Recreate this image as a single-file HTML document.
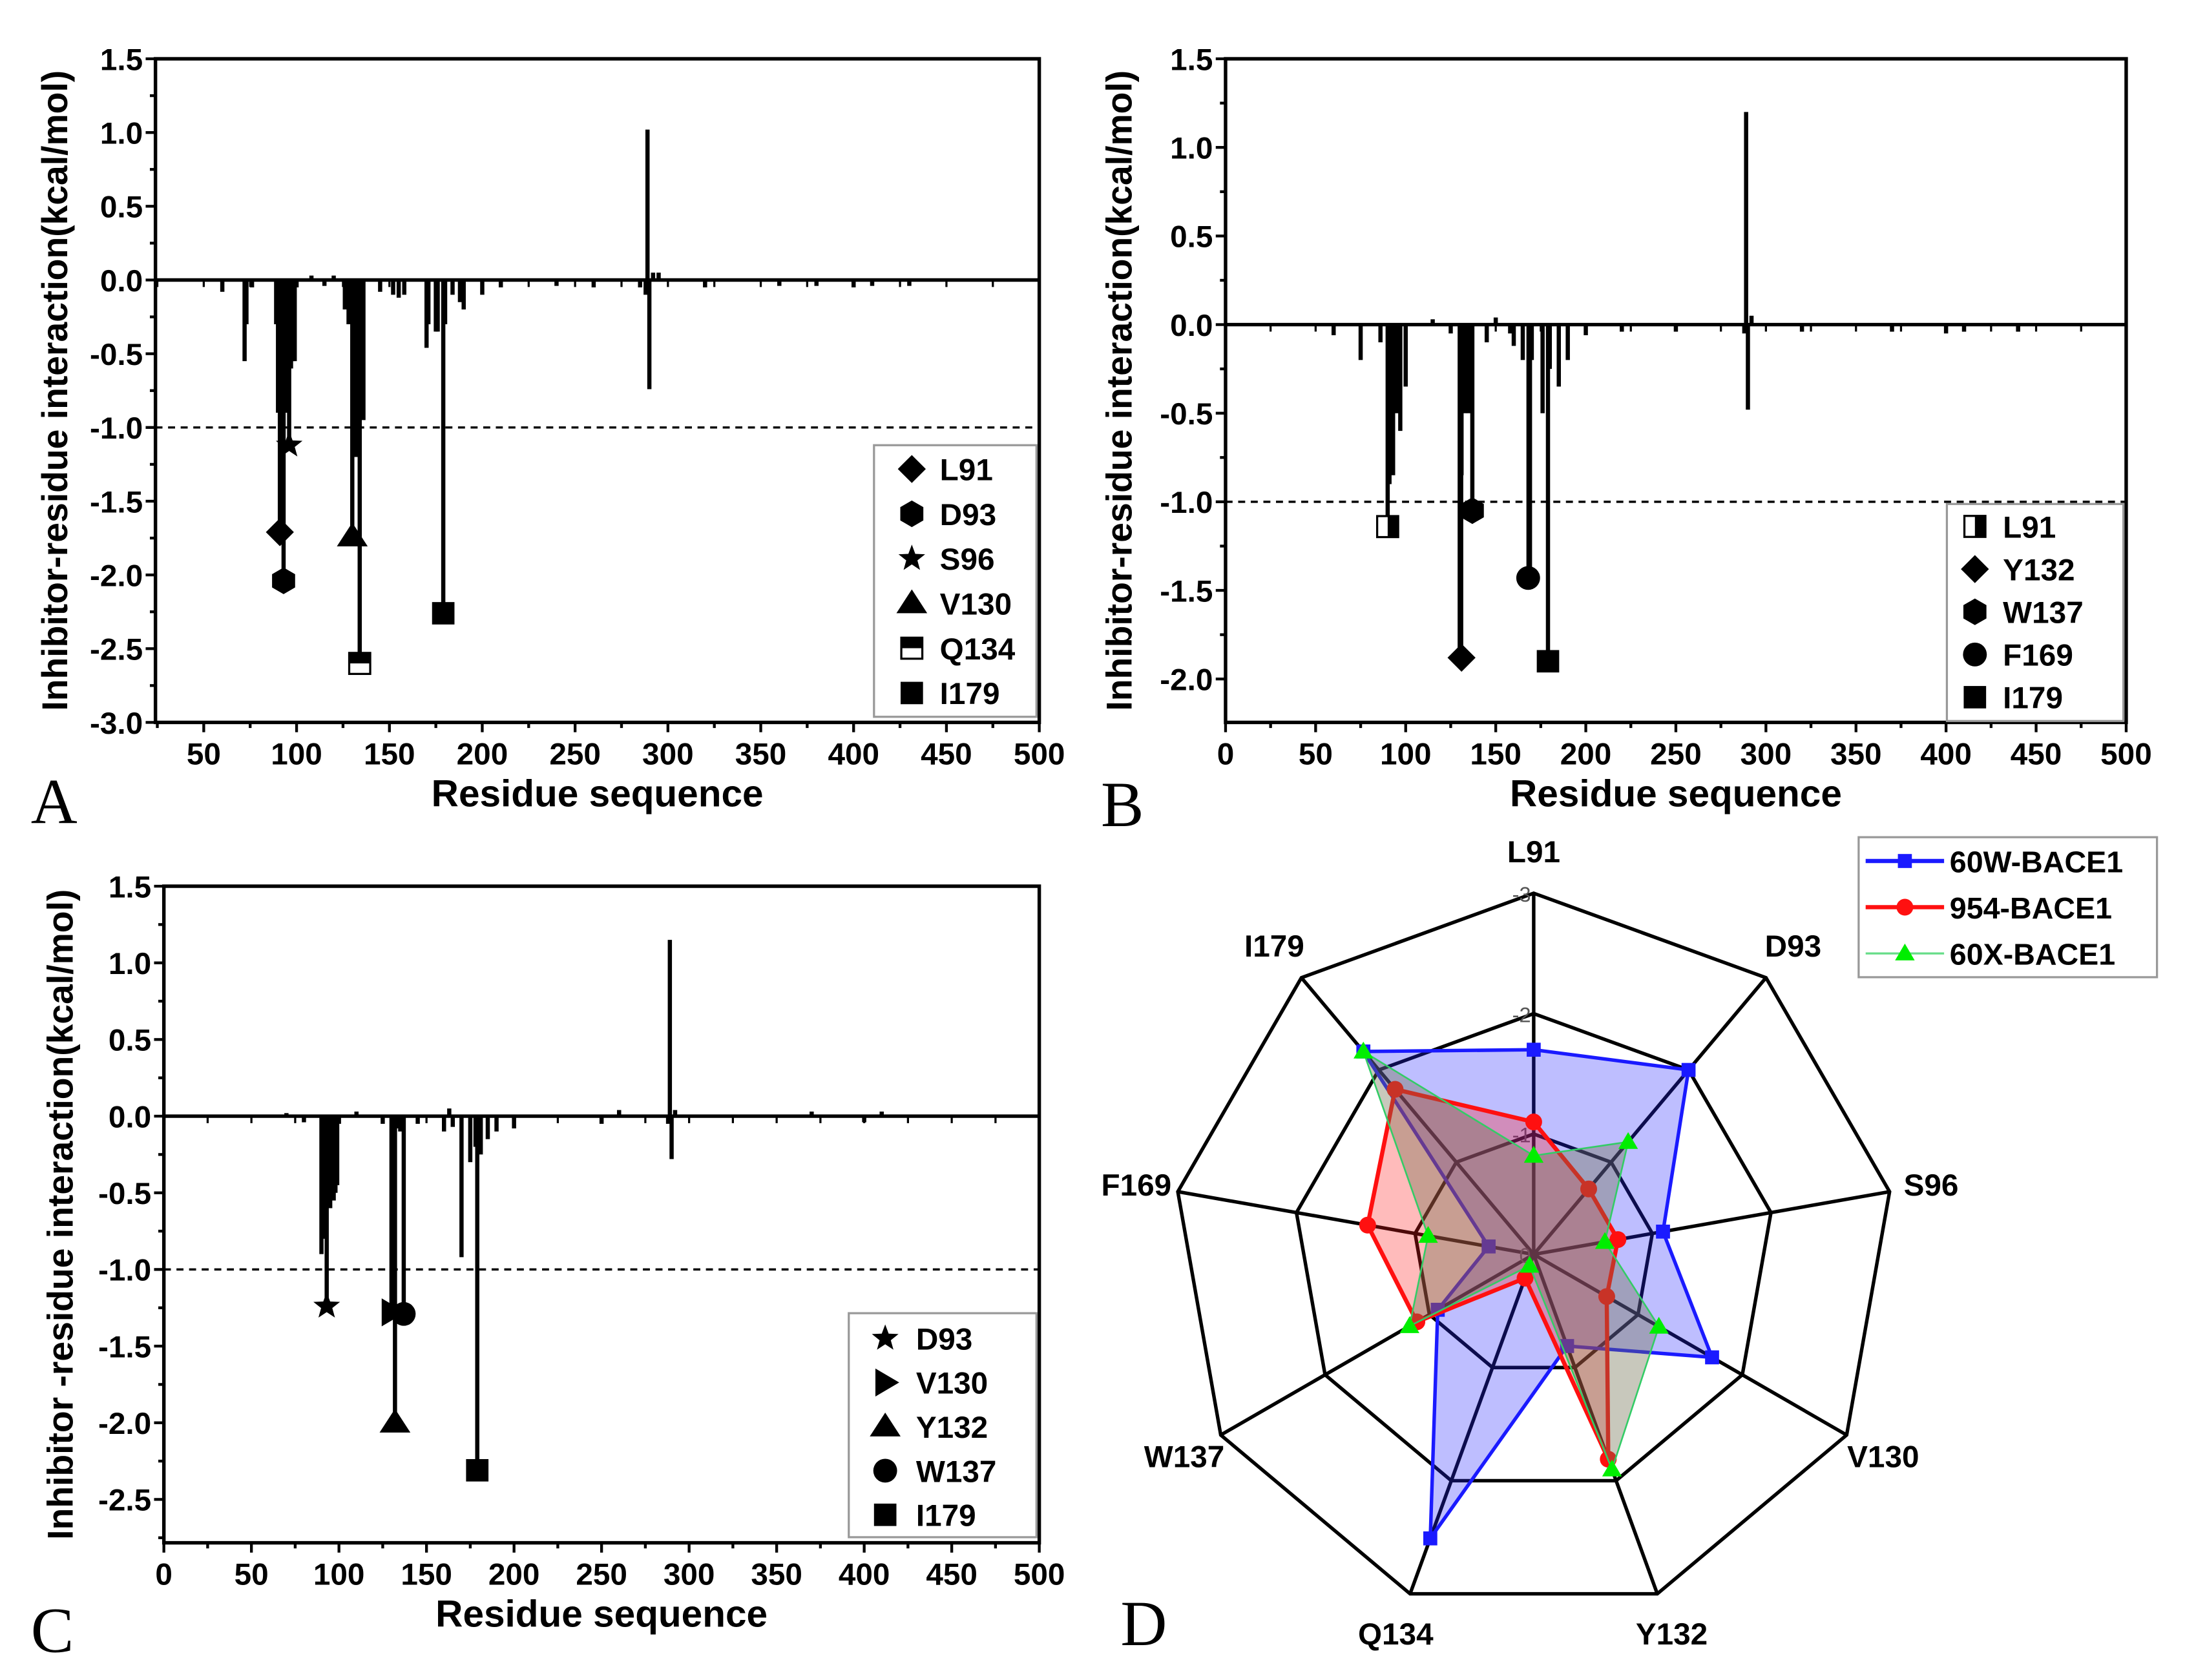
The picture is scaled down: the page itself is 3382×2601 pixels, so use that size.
<!DOCTYPE html>
<html><head><meta charset="utf-8">
<style>
html,body{margin:0;padding:0;background:#fff;}
svg{display:block;}
text{font-family:"Liberation Sans",Arial,sans-serif;font-weight:bold;fill:#000;}
</style></head>
<body>
<svg id="fig" width="3382" height="2601" viewBox="0 0 1560 1200" preserveAspectRatio="none" xmlns="http://www.w3.org/2000/svg"></svg>
<script>
// ---------- Panel A data ----------
const aRes = [60,72,73,76,89,90,91,92,93,94,95,96,97,98,99,100,108,115,120,126,128,130,132,134,135,136,145,152,155,158,170,171,175,176,179,180,184,188,190,200,210,240,260,285,288,289,290,292,295,320,360,380,400,410,430];
const aVal = [-0.08,-0.55,-0.3,-0.05,-0.3,-0.9,-1.71,-0.9,-2.04,-0.9,-0.7,-1.12,-0.6,-0.55,-0.55,-0.05,0.03,-0.04,0.03,-0.2,-0.3,-1.74,-1.2,-2.6,-0.9,-0.95,-0.08,-0.1,-0.12,-0.1,-0.46,-0.3,-0.35,-0.35,-2.26,-0.3,-0.1,-0.15,-0.2,-0.1,-0.05,-0.04,-0.05,-0.05,-0.1,1.02,-0.74,0.05,0.05,-0.05,-0.04,-0.04,-0.05,-0.04,-0.04];
const aMarkRes = [91,93,96,130,134,179];
const aMarkVal = [-1.71,-2.04,-1.12,-1.74,-2.6,-2.26];
const aMarkShape = ["diamond","hexagon","star","triangle","halfsq","square"];
const aLegend = ["L91","D93","S96","V130","Q134","I179"];
// ---------- Panel B data ----------
const bRes = [60,75,86,90,91,92,93,95,97,100,115,125,130,131,133,135,137,145,150,158,160,165,169,170,176,179,180,185,190,200,220,250,288,289,290,292,320,370,400,410,440];
const bVal = [-0.06,-0.2,-0.1,-1.14,-0.9,-0.8,-0.85,-0.5,-0.6,-0.35,0.03,-0.05,-1.88,-0.85,-0.5,-0.5,-1.05,-0.1,0.04,-0.05,-0.12,-0.2,-1.44,-0.2,-0.5,-1.9,-0.25,-0.35,-0.2,-0.06,-0.04,-0.04,-0.05,1.2,-0.48,0.05,-0.04,-0.04,-0.05,-0.04,-0.04];
const bMarkRes = [90,131,137,168,179];
const bMarkVal = [-1.14,-1.88,-1.05,-1.43,-1.9];
const bMarkShape = ["halfsqv","diamond","hexagon","circle","square"];
const bLegend = ["L91","Y132","W137","F169","I179"];
// ---------- Panel C data ----------
const cRes = [70,80,90,92,93,95,97,98,99,100,110,125,130,132,133,135,137,145,160,163,165,170,175,178,179,181,185,190,200,250,260,288,289,290,292,370,400,410];
const cVal = [0.02,-0.04,-0.9,-0.8,-1.24,-0.6,-0.55,-0.5,-0.45,-0.05,0.03,-0.05,-1.28,-2.0,-0.08,-0.1,-1.29,-0.05,-0.1,0.05,-0.07,-0.92,-0.3,-0.2,-2.31,-0.25,-0.15,-0.1,-0.08,-0.05,0.04,-0.05,1.15,-0.28,0.04,0.03,-0.04,0.03];
const cMarkRes = [93,130,132,137,179];
const cMarkVal = [-1.24,-1.28,-2.0,-1.29,-2.31];
const cMarkShape = ["star","rtriangle","triangle","circle","square"];
const cLegend = ["D93","V130","Y132","W137","I179"];
// ---------- Panel D (radar) data ----------
const radarAxes = ["L91","D93","S96","V130","Y132","Q134","W137","F169","I179"];
const radar60W = [-1.70,-2.0,-1.09,-1.71,-0.81,-2.51,-0.92,-0.38,-2.2];
const radar954 = [-1.10,-0.71,-0.71,-0.70,-1.81,-0.21,-1.12,-1.40,-1.79];
const radar60X = [-0.82,-1.22,-0.60,-1.20,-1.90,-0.10,-1.19,-0.89,-2.2];
const radarSeriesNames = ["60W-BACE1","954-BACE1","60X-BACE1"];
const radarTicks = ["0","-1","-2","-3"];

const NS="http://www.w3.org/2000/svg";
const svg=document.getElementById('fig');
function mk(tag,attrs,parent,txt){const e=document.createElementNS(NS,tag);for(const k in attrs)e.setAttribute(k,attrs[k]);if(txt!==undefined)e.textContent=txt;(parent||svg).appendChild(e);return e;}

function marker(g,shape,cx,cy,s){
  let e;
  if(shape==="diamond"){e=mk('polygon',{points:`${cx},${cy-s} ${cx+s},${cy} ${cx},${cy+s} ${cx-s},${cy}`,fill:'#000'},g);}
  else if(shape==="hexagon"){let p=[];for(let i=0;i<6;i++){const a=Math.PI/180*(60*i-90);p.push((cx+s*0.95*Math.cos(a))+','+(cy+s*0.95*Math.sin(a)));}e=mk('polygon',{points:p.join(' '),fill:'#000'},g);}
  else if(shape==="star"){let p=[];for(let i=0;i<10;i++){const r=i%2?s*0.42:s;const a=Math.PI/180*(36*i-90);p.push((cx+r*Math.cos(a))+','+(cy+r*Math.sin(a)));}e=mk('polygon',{points:p.join(' '),fill:'#000'},g);}
  else if(shape==="triangle"){e=mk('polygon',{points:`${cx},${cy-s} ${cx+s*1.1},${cy+s*0.7} ${cx-s*1.1},${cy+s*0.7}`,fill:'#000'},g);}
  else if(shape==="rtriangle"){e=mk('polygon',{points:`${cx+s},${cy} ${cx-s*0.7},${cy-s*1.0} ${cx-s*0.7},${cy+s*1.0}`,fill:'#000'},g);}
  else if(shape==="circle"){e=mk('circle',{cx:cx,cy:cy,r:s*0.85,fill:'#000'},g);}
  else if(shape==="square"){e=mk('rect',{x:cx-s*0.8,y:cy-s*0.8,width:s*1.6,height:s*1.6,fill:'#000'},g);}
  else if(shape==="halfsq"){e=mk('g',{},g);mk('rect',{x:cx-s*0.75,y:cy-s*0.75,width:s*1.5,height:s*1.5,fill:'#fff',stroke:'#000','stroke-width':1.5},e);mk('rect',{x:cx-s*0.75,y:cy-s*0.75,width:s*1.5,height:s*0.75,fill:'#000'},e);}
  else if(shape==="halfsqv"){e=mk('g',{},g);mk('rect',{x:cx-s*0.75,y:cy-s*0.75,width:s*1.5,height:s*1.5,fill:'#fff',stroke:'#000','stroke-width':1.5},e);mk('rect',{x:cx,y:cy-s*0.75,width:s*0.75,height:s*1.5,fill:'#000'},e);}
  return e;
}

function panel(o){
  const g=mk('g',{});
  
  
  const X=v=>o.x0+(v-o.xmin)*(o.x1-o.x0)/(o.xmax-o.xmin);
  const Y=v=>o.y0+(o.ymax-v)*(o.y1-o.y0)/(o.ymax-o.ymin);
  for(let v=o.yTickStart;v>=o.ymin-1e-6;v-=0.25){
    const major=Math.abs(Math.round(v*2)-v*2)<1e-6;
    const t=mk('line',{x1:o.x0-(major?7:4),x2:o.x0,y1:Y(v),y2:Y(v),stroke:'#000','stroke-width':2},g);
    
    
    if(major){const l=mk('text',{x:o.x0-9,y:Y(v)+8,'text-anchor':'end','font-size':22},g,v.toFixed(1));
      
      }
  }
  for(let v=o.xTickStart;v<=o.xmax;v+=25){
    const major=v%50===0;
    const t=mk('line',{x1:X(v),x2:X(v),y1:o.y1,y2:o.y1+(major?7:4),stroke:'#000','stroke-width':2},g);
    
    
    if(major){const l=mk('text',{x:X(v),y:o.y1+30,'text-anchor':'middle','font-size':22},g,String(v));
      
      }
  }
  for(let v=o.xTickStart;v<=o.xmax;v+=25){
    mk('line',{x1:X(v),x2:X(v),y1:Y(0),y2:Y(0)+5,stroke:'#000','stroke-width':1.5},g);
  }
  const d=mk('line',{x1:o.x0,x2:o.x1,y1:Y(-1),y2:Y(-1),stroke:'#000','stroke-width':1.6,'stroke-dasharray':'5,4'},g);
  
  
  for(let i=0;i<o.res.length;i++){
    const b=mk('line',{x1:X(o.res[i]),x2:X(o.res[i]),y1:Y(0),y2:Y(o.val[i]),stroke:'#000','stroke-width':3},g);
    
    
  }
  for(let i=0;i<o.mres.length;i++){
    const st=mk('line',{x1:X(o.mres[i]),x2:X(o.mres[i]),y1:Y(0),y2:Y(o.mval[i]),stroke:'#000','stroke-width':2.5},g);
    
    
    const m=marker(g,o.mshape[i],X(o.mres[i]),Y(o.mval[i]),10);
    
    
  }
  mk('line',{x1:o.x0,x2:o.x1,y1:Y(0),y2:Y(0),stroke:'#000','stroke-width':2.5},g);
  const f=mk('rect',{x:o.x0,y:o.y0,width:o.x1-o.x0,height:o.y1-o.y0,fill:'none',stroke:'#000','stroke-width':2.5},g);
  
  
  const lg=mk('g',{},g);
  
  
  mk('rect',{x:o.lx,y:o.ly,width:o.lw,height:o.lh,fill:'#fff',stroke:'#999','stroke-width':1.5},lg);
  for(let i=0;i<o.leg.length;i++){
    const ey=o.ly+o.lfirst+i*o.lstep;
    const en=mk('g',{},lg);
    
    
    marker(en,o.mshape[i],o.lx+o.lmx,ey,10);
    mk('text',{x:o.lx+o.ltx,y:ey+8,'font-size':22},en,o.leg[i]);
  }
  const xt=mk('text',{x:(o.x0+o.x1)/2,y:o.y1+60,'text-anchor':'middle','font-size':27},g,'Residue sequence');
  
  
  const cy=(o.y0+o.y1)/2;
  const yt=mk('text',{x:o.ytx,y:cy,'text-anchor':'middle','font-size':25.5,transform:`rotate(-90 ${o.ytx} ${cy})`},g,o.ytitle);
  
  
  const pl=mk('text',{x:o.px,y:o.py,'font-size':46,style:'font-family:"Liberation Serif",serif;font-weight:normal'},g,o.letter);
  
  
}

panel({name:'panel-a',x0:111,x1:742,y0:42,y1:516,xmin:24,xmax:500,ymin:-3.0,ymax:1.5,yTickStart:1.5,xTickStart:25,
  res:aRes,val:aVal,mres:aMarkRes,mval:aMarkVal,mshape:aMarkShape,leg:aLegend,
  lx:624,ly:318,lw:116,lh:194,lfirst:17,lstep:32,lmx:27,ltx:47,ytx:48,ytitle:'Inhibitor-residue interaction(kcal/mol)',letter:'A',px:22,py:588});
panel({name:'panel-b',x0:875,x1:1518,y0:42,y1:516,xmin:0,xmax:500,ymin:-2.245,ymax:1.5,yTickStart:1.5,xTickStart:0,
  res:bRes,val:bVal,mres:bMarkRes,mval:bMarkVal,mshape:bMarkShape,leg:bLegend,
  lx:1390,ly:360,lw:126,lh:155,lfirst:16,lstep:30.5,lmx:20,ltx:40,ytx:808,ytitle:'Inhibitor-residue interaction(kcal/mol)',letter:'B',px:786,py:590});
panel({name:'panel-c',x0:117,x1:742,y0:633,y1:1102,xmin:0,xmax:500,ymin:-2.783,ymax:1.5,yTickStart:1.5,xTickStart:0,
  res:cRes,val:cVal,mres:cMarkRes,mval:cMarkVal,mshape:cMarkShape,leg:cLegend,
  lx:606,ly:938,lw:134,lh:160,lfirst:18,lstep:31.5,lmx:26,ltx:48,ytx:52,ytitle:'Inhibitor -residue interaction(kcal/mol)',letter:'C',px:22,py:1180});

(function(){
  const g=mk('g',{});
  
  
  const cx=1095, cy=896, R=258, maxV=3;
  const n=radarAxes.length;
  const ang=i=>(-90+360/n*i)*Math.PI/180;
  const P=(i,v)=>[cx+(-v)/maxV*R*Math.cos(ang(i)), cy+(-v)/maxV*R*Math.sin(ang(i))];
  for(let k=1;k<=3;k++){
    const pts=[];for(let i=0;i<n;i++){const p=P(i,-k);pts.push(p.join(','));}
    const r=mk('polygon',{points:pts.join(' '),fill:'none',stroke:'#000','stroke-width':2.5},g);
    
    
  }
  for(let i=0;i<n;i++){
    const p=P(i,-3);
    const a=mk('line',{x1:cx,y1:cy,x2:p[0],y2:p[1],stroke:'#000','stroke-width':2.5},g);
    
    
    const lp=P(i,-3.35);
    const t=mk('text',{x:lp[0],y:lp[1]+8,'text-anchor':'middle','font-size':22},g,radarAxes[i]);
    
    
  }
  for(let k=0;k<radarTicks.length;k++){
    const t=mk('text',{x:cx-2,y:cy-k*R/3+6,'text-anchor':'end','font-size':15,style:'fill:#555;font-weight:normal'},g,radarTicks[k]);
    
    
  }
  const series=[[radar60W,'#1a1aff','rgba(40,40,255,0.30)','square',2.5],[radar954,'#ff1010','rgba(255,30,30,0.30)','circle',3],[radar60X,'#33cc66','rgba(110,110,80,0.38)','tri',1.2]];
  series.forEach((s,si)=>{
    const pts=s[0].map((v,i)=>P(i,v).join(','));
    const poly=mk('polygon',{points:pts.join(' '),fill:s[2],stroke:s[1],'stroke-width':s[4]},g);
    
    
    s[0].forEach((v,i)=>{
      const p=P(i,v);let m;
      if(s[3]==='square')m=mk('rect',{x:p[0]-5,y:p[1]-5,width:10,height:10,fill:'#1a1aff'},g);
      else if(s[3]==='circle')m=mk('circle',{cx:p[0],cy:p[1],r:6,fill:'#ff1010'},g);
      else m=mk('polygon',{points:`${p[0]},${p[1]-7} ${p[0]+7},${p[1]+5} ${p[0]-7},${p[1]+5}`,fill:'#00ee00'},g);
      
      
    });
  });
  const lg=mk('g',{},g);
  
  
  mk('rect',{x:1327,y:598,width:213,height:100,fill:'#fff',stroke:'#999','stroke-width':1.5},lg);
  const cols=['#1a1aff','#ff1010','#66dd88'];
  for(let i=0;i<3;i++){
    const ey=615+i*33;
    const en=mk('g',{},lg);
    
    
    mk('line',{x1:1332,x2:1388,y1:ey,y2:ey,stroke:cols[i],'stroke-width':i==2?1.5:3},en);
    if(i==0)mk('rect',{x:1355,y:ey-5,width:10,height:10,fill:'#1a1aff'},en);
    else if(i==1)mk('circle',{cx:1360,cy:ey,r:6,fill:'#ff1010'},en);
    else mk('polygon',{points:`1360,${ey-7} 1367,${ey+5} 1353,${ey+5}`,fill:'#00ee00'},en);
    mk('text',{x:1392,y:ey+8,'font-size':21.5},en,radarSeriesNames[i]);
  }
  const pl=mk('text',{x:800,y:1175,'font-size':46,style:'font-family:"Liberation Serif",serif;font-weight:normal'},g,'D');
  
  
})();
</script>
</body></html>
